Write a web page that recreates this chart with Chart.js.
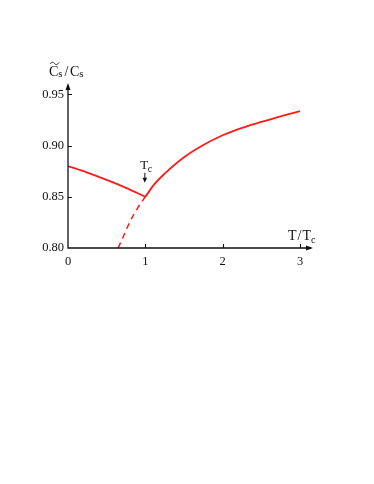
<!DOCTYPE html>
<html>
<head>
<meta charset="utf-8">
<script src="https://cdn.jsdelivr.net/npm/chart.js@4/dist/chart.umd.min.js"></script>
<style>
html,body{margin:0;padding:0;background:#fff;}
#wrap{width:374px;height:484px;position:relative;}
</style>
</head>
<body>
<div id="wrap"><canvas id="c" width="374" height="484"></canvas></div>
<script>
// Data
const tBelow = [0, 0.25, 0.5, 0.75, 1.0];
const cBelow = [0.880, 0.8735, 0.8665, 0.8587, 0.850];
const tAbove = [1.0, 1.12, 1.25, 1.5, 1.75, 2.0, 2.25, 2.5, 2.75, 3.0];
const cAbove = [0.850, 0.8625, 0.8725, 0.8885, 0.9005, 0.9100, 0.9172, 0.9230, 0.9285, 0.9335];
const tExtrap = [0.647, 0.7, 0.8, 0.9, 1.0];
const cExtrap = [0.800, 0.8085, 0.8255, 0.839, 0.850];
const xTicks = [0, 1, 2, 3];
const yTicks = [0.80, 0.85, 0.90, 0.95];
const xLabel = ["T", "/", "T", "c"];
const yLabel = ["C", "s", "/", "C", "s"];
const tcLabel = ["T", "c"];
const tcPoint = {x: 1, y: 0.85};

const pts = (xs, ys) => xs.map((x, i) => ({x: x, y: ys[i]}));
const RED = '#ff1a1a';
const FONT = '"Liberation Serif", "DejaVu Serif", serif';

const axesPlugin = {
  id: 'axesPlugin',
  afterDatasetsDraw(chart) {
    const ctx = chart.ctx;
    const xs = chart.scales.x, ys = chart.scales.y;
    const x0 = xs.getPixelForValue(0), y0 = ys.getPixelForValue(0.80);
    const xEnd = xs.right, yEnd = ys.top;
    ctx.save();
    ctx.strokeStyle = '#111'; ctx.fillStyle = '#111'; ctx.lineWidth = 1.3;
    // axes
    ctx.beginPath();
    ctx.moveTo(x0, yEnd + 2); ctx.lineTo(x0, y0); ctx.lineTo(xEnd - 2, y0);
    ctx.stroke();
    // arrowheads
    ctx.beginPath();
    ctx.moveTo(xEnd, y0); ctx.lineTo(xEnd - 7, y0 - 2.5); ctx.lineTo(xEnd - 7, y0 + 2.5); ctx.closePath(); ctx.fill();
    ctx.beginPath();
    ctx.moveTo(x0, yEnd); ctx.lineTo(x0 - 2.5, yEnd + 7); ctx.lineTo(x0 + 2.5, yEnd + 7); ctx.closePath(); ctx.fill();
    // inward ticks
    ctx.lineWidth = 1.1;
    ctx.beginPath();
    xTicks.forEach(v => { if (v === 0) return; const p = Math.round(xs.getPixelForValue(v)) + 0.5; ctx.moveTo(p, y0); ctx.lineTo(p, y0 - 4); });
    yTicks.forEach(v => { if (v === 0.80) return; const p = Math.round(ys.getPixelForValue(v)) + 0.5; ctx.moveTo(x0, p); ctx.lineTo(x0 + 4, p); });
    ctx.stroke();
    // x axis title T/Tc
    ctx.textBaseline = 'alphabetic';
    ctx.textAlign = 'left';
    let px = 288, py = 240;
    ctx.font = '14px ' + FONT;
    ctx.fillText(xLabel[0], px, py); px += ctx.measureText(xLabel[0]).width + 1;
    ctx.fillText(xLabel[1], px, py); px += ctx.measureText(xLabel[1]).width + 1;
    ctx.fillText(xLabel[2], px, py); px += ctx.measureText(xLabel[2]).width;
    ctx.font = '10px ' + FONT;
    ctx.fillText(xLabel[3], px, py + 3);
    // y axis title  C~s / Cs
    px = 49; py = 76;
    ctx.font = '14px ' + FONT;
    const cw = ctx.measureText(yLabel[0]).width;
    ctx.fillText(yLabel[0], px, py);
    // tilde over C
    ctx.lineWidth = 0.9;
    ctx.beginPath();
    const tx = px + 1, ty = py - 13;
    ctx.moveTo(tx, ty + 1);
    ctx.bezierCurveTo(tx + 2, ty - 1.5, tx + 3.5, ty - 1, tx + 4.5, ty + 0.5);
    ctx.bezierCurveTo(tx + 5.5, ty + 2, tx + 7.5, ty + 2, tx + 9, ty - 0.5);
    ctx.stroke();
    px += cw;
    ctx.font = '11px ' + FONT;
    ctx.fillText(yLabel[1], px, py + 1); px += ctx.measureText(yLabel[1]).width + 2;
    ctx.font = '14px ' + FONT;
    ctx.fillText(yLabel[2], px, py); px += ctx.measureText(yLabel[2]).width + 1.5;
    ctx.fillText(yLabel[3], px, py); px += ctx.measureText(yLabel[3]).width;
    ctx.font = '11px ' + FONT;
    ctx.fillText(yLabel[4], px, py + 1);
    // Tc annotation with arrow
    const ax = xs.getPixelForValue(tcPoint.x), ay = ys.getPixelForValue(tcPoint.y);
    ctx.font = '13px ' + FONT;
    ctx.fillText(tcLabel[0], ax - 5, ay - 28);
    const tw = ctx.measureText(tcLabel[0]).width;
    ctx.font = '10px ' + FONT;
    ctx.fillText(tcLabel[1], ax - 5 + tw - 0.5, ay - 25);
    ctx.lineWidth = 1;
    ctx.beginPath(); ctx.moveTo(ax - 0.5, ay - 24); ctx.lineTo(ax - 0.5, ay - 18); ctx.stroke();
    ctx.beginPath(); ctx.moveTo(ax - 0.5, ay - 14); ctx.lineTo(ax - 2.8, ay - 19); ctx.lineTo(ax + 1.8, ay - 19); ctx.closePath(); ctx.fill();
    ctx.restore();
  }
};

new Chart(document.getElementById('c'), {
  type: 'scatter',
  data: {
    datasets: [
      {data: pts(tBelow, cBelow), showLine: true, borderColor: RED, borderWidth: 1.8, pointRadius: 0, cubicInterpolationMode: 'monotone', fill: false},
      {data: pts(tAbove, cAbove), showLine: true, borderColor: RED, borderWidth: 1.8, pointRadius: 0, cubicInterpolationMode: 'monotone', fill: false},
      {data: pts(tExtrap, cExtrap), showLine: true, borderColor: RED, borderWidth: 1.5, borderDash: [6, 4.5], pointRadius: 0, cubicInterpolationMode: 'monotone', fill: false}
    ]
  },
  options: {
    responsive: false,
    animation: false,
    devicePixelRatio: 1,
    layout: {padding: {left: 0, top: 83, right: 61, bottom: 206}},
    plugins: {legend: {display: false}, tooltip: {enabled: false}},
    scales: {
      x: {
        type: 'linear', min: 0, max: 3.168,
        border: {display: false},
        grid: {display: false, drawTicks: false},
        afterBuildTicks: s => { s.ticks = xTicks.map(v => ({value: v})); },
        afterFit: s => { s.height = 30; },
        ticks: {color: '#111', padding: 6, font: {family: FONT, size: 12.5}, callback: v => String(v), maxRotation: 0}
      },
      y: {
        type: 'linear', min: 0.80, max: 0.961,
        border: {display: false},
        grid: {display: false, drawTicks: false},
        afterBuildTicks: s => { s.ticks = yTicks.map(v => ({value: v})); },
        afterFit: s => { s.width = 68; },
        ticks: {color: '#111', padding: 4, font: {family: FONT, size: 12.5}, callback: v => Number(v).toFixed(2)}
      }
    }
  },
  plugins: [axesPlugin]
});
</script>
</body>
</html>
